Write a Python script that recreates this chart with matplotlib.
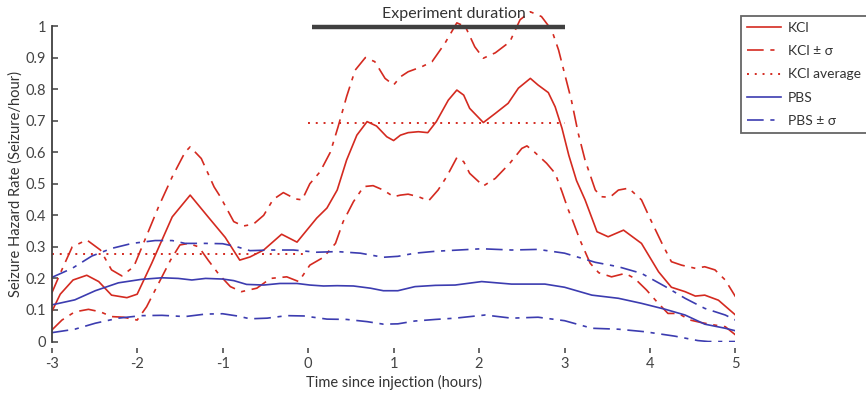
import matplotlib.pyplot as plt

plt.rcParams['font.family'] = ['Lato', 'DejaVu Sans']
plt.rcParams['axes.unicode_minus'] = False

# KCl mean and +/- sigma
kcl_x = [-3, -2.9, -2.75, -2.59, -2.45, -2.30, -2.12, -2.0, -1.83, -1.59, -1.38, -1.17, -0.97,
         -0.80, -0.68, -0.52, -0.31, -0.13, 0.10, 0.22, 0.34, 0.45, 0.57, 0.69, 0.80, 0.92, 1.0,
         1.08, 1.17, 1.29, 1.40, 1.50, 1.64, 1.74, 1.82, 1.89, 2.05, 2.19, 2.34, 2.46, 2.60, 2.69,
         2.81, 2.89, 2.97, 3.05, 3.14, 3.24, 3.38, 3.51, 3.69, 3.90, 4.10, 4.25, 4.41, 4.53, 4.64,
         4.80, 5.0]
kcl_y = [0.094, 0.15, 0.195, 0.21, 0.19, 0.147, 0.139, 0.15, 0.248, 0.395, 0.464, 0.395, 0.33,
         0.258, 0.268, 0.29, 0.34, 0.315, 0.391, 0.423, 0.48, 0.575, 0.654, 0.697, 0.683, 0.649, 0.637,
         0.654, 0.662, 0.665, 0.662, 0.697, 0.765, 0.797, 0.781, 0.739, 0.694, 0.723, 0.755, 0.803, 0.834, 0.813,
         0.789, 0.744, 0.676, 0.59, 0.51, 0.449, 0.348, 0.332, 0.353, 0.311, 0.221, 0.172, 0.158, 0.144, 0.147,
         0.131, 0.084]

kcl_hi_x = [-3, -2.90, -2.76, -2.59, -2.43, -2.30, -2.18, -2.04, -1.91, -1.75, -1.59, -1.44, -1.38,
            -1.25, -1.1, -1.03, -0.87, -0.76, -0.64, -0.52, -0.41, -0.29, -0.15, -0.07, 0.02, 0.14,
            0.26, 0.35, 0.45, 0.55, 0.67, 0.78, 0.90, 1.0, 1.08, 1.17, 1.33, 1.45, 1.60, 1.74, 1.84,
            1.95, 2.05, 2.19, 2.36, 2.48, 2.60, 2.73, 2.85, 2.93, 3.01, 3.08, 3.16, 3.24, 3.36, 3.43,
            3.53, 3.63, 3.75, 3.90, 4.0, 4.14, 4.25, 4.37, 4.53, 4.64, 4.76, 4.88, 5.0]
kcl_hi_y = [0.153, 0.216, 0.30, 0.322, 0.29, 0.227, 0.208, 0.237, 0.322, 0.427, 0.522, 0.60, 0.617,
            0.58, 0.49, 0.46, 0.38, 0.366, 0.372, 0.40, 0.45, 0.472, 0.452, 0.449, 0.50, 0.538,
            0.60, 0.68, 0.776, 0.86, 0.90, 0.887, 0.834, 0.813, 0.839, 0.855, 0.871, 0.887, 0.945, 1.01, 0.998,
            0.934, 0.898, 0.915, 0.95, 1.02, 1.045, 1.03, 0.987, 0.924, 0.839, 0.765, 0.66, 0.575, 0.48, 0.459,
            0.457, 0.48, 0.486, 0.449, 0.39, 0.311, 0.253, 0.242, 0.232, 0.237, 0.227, 0.195, 0.142]

kcl_lo_x = [-3, -2.88, -2.73, -2.57, -2.43, -2.30, -2.16, -2.0, -1.89, -1.75, -1.61, -1.50, -1.40,
            -1.28, -1.17, -1.05, -0.91, -0.78, -0.60, -0.44, -0.25, -0.11, 0.02, 0.18, 0.32, 0.41,
            0.53, 0.65, 0.76, 0.88, 1.0, 1.08, 1.17, 1.29, 1.41, 1.52, 1.62, 1.74, 1.82, 1.89, 2.05,
            2.19, 2.36, 2.50, 2.56, 2.65, 2.79, 2.89, 2.97, 3.04, 3.10, 3.18, 3.30, 3.40, 3.55, 3.71,
            3.82, 3.96, 4.08, 4.21, 4.33, 4.47, 4.60, 4.76, 4.88, 5.0]
kcl_lo_y = [0.036, 0.068, 0.094, 0.102, 0.094, 0.079, 0.077, 0.068, 0.11, 0.184, 0.258, 0.306, 0.311,
            0.30, 0.258, 0.215, 0.174, 0.158, 0.169, 0.20, 0.205, 0.19, 0.242, 0.267, 0.311, 0.38,
            0.443, 0.491, 0.494, 0.48, 0.459, 0.464, 0.467, 0.459, 0.446, 0.48, 0.522, 0.583, 0.57, 0.533, 0.493,
            0.517, 0.565, 0.612, 0.62, 0.60, 0.565, 0.533, 0.475, 0.42, 0.38, 0.322, 0.248, 0.218, 0.205, 0.216,
            0.20, 0.163, 0.126, 0.089, 0.089, 0.068, 0.06, 0.052, 0.047, 0.021]

# PBS mean and +/- sigma
pbs_x = [-3, -2.73, -2.49, -2.22, -1.95, -1.71, -1.52, -1.36, -1.20, -1.0, -0.87, -0.72, -0.52,
         -0.33, -0.13, 0.02, 0.18, 0.34, 0.53, 0.73, 0.88, 1.05, 1.25, 1.49, 1.72, 2.03, 2.38,
         2.77, 3.0, 3.32, 3.63, 3.90, 4.18, 4.41, 4.64, 4.88, 5.0]
pbs_y = [0.116, 0.132, 0.161, 0.186, 0.197, 0.202, 0.20, 0.195, 0.20, 0.198, 0.193, 0.181, 0.179,
         0.184, 0.184, 0.179, 0.176, 0.177, 0.176, 0.169, 0.161, 0.161, 0.174, 0.178, 0.179, 0.19, 0.182,
         0.182, 0.172, 0.147, 0.137, 0.121, 0.102, 0.084, 0.055, 0.042, 0.034]

pbs_hi_x = [-3, -2.76, -2.53, -2.30, -2.06, -1.79, -1.59, -1.44, -1.20, -1.0, -0.83, -0.68, -0.44,
            -0.17, 0.10, 0.34, 0.61, 0.88, 1.05, 1.25, 1.49, 1.76, 2.03, 2.38, 2.69, 3.0, 3.36,
            3.63, 3.90, 4.18, 4.41, 4.64, 4.88, 5.0]
pbs_hi_y = [0.203, 0.232, 0.271, 0.295, 0.311, 0.32, 0.32, 0.311, 0.311, 0.31, 0.30, 0.288, 0.29,
            0.29, 0.283, 0.285, 0.28, 0.267, 0.27, 0.28, 0.286, 0.29, 0.294, 0.29, 0.292, 0.28, 0.251,
            0.237, 0.216, 0.174, 0.137, 0.105, 0.084, 0.068]

pbs_lo_x = [-3, -2.73, -2.49, -2.22, -1.95, -1.71, -1.44, -1.20, -1.0, -0.83, -0.68, -0.48, -0.25,
            -0.05, 0.22, 0.45, 0.69, 0.88, 1.05, 1.25, 1.49, 1.72, 2.07, 2.38, 2.69, 3.0, 3.32,
            3.63, 3.94, 4.29, 4.56, 4.68, 5.0]
pbs_lo_y = [0.028, 0.039, 0.058, 0.074, 0.082, 0.083, 0.079, 0.087, 0.088, 0.081, 0.072, 0.074, 0.082,
            0.081, 0.071, 0.07, 0.063, 0.055, 0.056, 0.065, 0.07, 0.074, 0.084, 0.074, 0.077, 0.066, 0.042,
            0.039, 0.031, 0.017, 0.003, 0.0, 0.0]

# KCl averages before / during the experiment
avg_x = [[-3, 0], [0, 3]]
avg_y = [0.278, 0.693]

exp_x = [0.05, 3.0]
exp_y = 0.998

x_ticks = [-3, -2, -1, 0, 1, 2, 3, 4, 5]
y_ticks = [0, 0.1, 0.2, 0.3, 0.4, 0.5, 0.6, 0.7, 0.8, 0.9, 1]
y_labels = ['0', '0.1', '0.2', '0.3', '0.4', '0.5', '0.6', '0.7', '0.8', '0.9', '1']

red = '#d42a20'
blue = '#3c3cb0'
gray = '#404040'
dashdot = (0, (10, 4, 2.5, 4))

fig = plt.figure(figsize=(8.66, 3.93), dpi=100)
ax = fig.add_axes([0.0597, 0.131, 0.7896, 0.851])

ax.plot(kcl_x, kcl_y, color=red, lw=1.2, label='KCl')
ax.plot(kcl_hi_x, kcl_hi_y, color=red, lw=1.2, linestyle=dashdot, label='KCl ± σ')
ax.plot(kcl_lo_x, kcl_lo_y, color=red, lw=1.2, linestyle=dashdot)
ax.plot(avg_x[0], [avg_y[0]] * 2, color=red, lw=1.4, linestyle=(0, (1, 3)), label='KCl average')
ax.plot(avg_x[1], [avg_y[1]] * 2, color=red, lw=1.4, linestyle=(0, (1, 3)))
ax.plot(pbs_x, pbs_y, color=blue, lw=1.2, label='PBS')
ax.plot(pbs_hi_x, pbs_hi_y, color=blue, lw=1.2, linestyle=dashdot, label='PBS ± σ')
ax.plot(pbs_lo_x, pbs_lo_y, color=blue, lw=1.2, linestyle=dashdot)

# experiment duration bar
ax.plot(exp_x, [exp_y, exp_y], color=gray, lw=3.2, solid_capstyle='butt')
ax.text(1.70, 1.037, 'Experiment duration', ha='center', va='center', fontsize=11.5, color='#333333')

ax.set_xlim(-3, 5)
ax.set_ylim(0, 1.06)
ax.set_xticks(x_ticks)
ax.set_xticklabels([str(t) for t in x_ticks])
ax.set_yticks(y_ticks)
ax.set_yticklabels(y_labels)

for s in ['top', 'right']:
    ax.spines[s].set_visible(False)
ax.spines['bottom'].set_position(('outward', 8.3))
ax.spines['bottom'].set_visible(False)
ax.spines['left'].set_bounds(0, 1)
ax.spines['left'].set_color(gray)
ax.spines['left'].set_linewidth(1.3)
ax.tick_params(axis='both', direction='in', colors=gray, labelsize=10.5, width=1.1)
ax.tick_params(axis='y', length=4.3, pad=4)
ax.tick_params(axis='x', length=3.6, pad=3)
for lbl in ax.get_xticklabels() + ax.get_yticklabels():
    lbl.set_color('#444444')

ax.set_xlabel('Time since injection (hours)', fontsize=10.5, color='#333333', labelpad=3)
ax.set_ylabel('Seizure Hazard Rate (Seizure/hour)', fontsize=10.5, color='#333333')
ax.yaxis.set_label_coords(-0.042, 0.5 / 1.06)

leg = ax.legend(loc='upper left', bbox_to_anchor=(741 / 866, 1 - 16 / 393),
                bbox_transform=fig.transFigure, fontsize=10, frameon=True, fancybox=False,
                borderaxespad=0, handlelength=2.45, handletextpad=0.45, labelspacing=0.8,
                borderpad=0.45)
leg.get_frame().set_edgecolor(gray)
leg.get_frame().set_linewidth(1.3)
for t in leg.get_texts():
    t.set_color('#333333')

fig.savefig('out.png', dpi=100)
